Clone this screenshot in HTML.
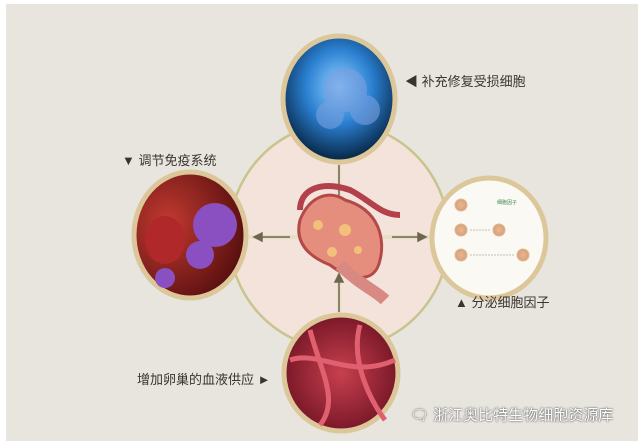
<!DOCTYPE html>
<html><head><meta charset="utf-8"><style>
body{margin:0;width:643px;height:448px;overflow:hidden;background:#fff;font-family:"Liberation Sans","Noto Sans CJK SC",sans-serif}
.t{position:absolute;font-size:13px;color:#3a3430;white-space:nowrap}
</style></head><body>
<svg width="643" height="448" style="position:absolute;left:0;top:0">
<defs>
<radialGradient id="blue" cx="0.5" cy="0.4" r="0.6"><stop offset="0" stop-color="#8fd0ff"/><stop offset="0.5" stop-color="#2a7fd0"/><stop offset="1" stop-color="#06223f"/></radialGradient>
<radialGradient id="red" cx="0.5" cy="0.5" r="0.6"><stop offset="0" stop-color="#c8404f"/><stop offset="1" stop-color="#6a1020"/></radialGradient>
<radialGradient id="imm" cx="0.3" cy="0.4" r="0.7"><stop offset="0" stop-color="#c23a30"/><stop offset="1" stop-color="#5a1010"/></radialGradient>
<radialGradient id="cell" cx="0.5" cy="0.5" r="0.5"><stop offset="0" stop-color="#e8b890"/><stop offset="1" stop-color="#d7a07a"/></radialGradient>
</defs>
<rect x="6" y="4" width="632" height="437" fill="#e8e5df"/>
<ellipse cx="339" cy="236" rx="110" ry="113" fill="#f3e3da" stroke="#c8c48e" stroke-width="2.5"/>
<g stroke="#e9dfc8" stroke-width="4" fill="none">
<line x1="339" y1="162" x2="339" y2="315"/><line x1="248" y1="237" x2="430" y2="237"/></g>
<g stroke="#6f6650" stroke-width="1.5" fill="#6f6650">
<line x1="339" y1="165" x2="339" y2="205"/><path d="M335,200 L339,208 L343,200Z"/>
<line x1="339" y1="275" x2="339" y2="312"/><path d="M335,282 L339,274 L343,282Z"/>
<line x1="255" y1="237" x2="290" y2="237"/><path d="M262,233 L254,237 L262,241Z"/>
<line x1="392" y1="237" x2="425" y2="237"/><path d="M418,233 L426,237 L418,241Z"/>
</g>
<!-- ovary -->
<path d="M300,220 C310,195 330,190 345,200 C380,210 385,240 380,260 C375,285 350,280 330,265 C305,255 295,240 300,220Z" fill="#e58e7e" stroke="#b44a48" stroke-width="3"/>
<path d="M300,210 C300,190 320,180 350,190 C370,200 380,215 400,215" stroke="#b3404a" stroke-width="6" fill="none"/>
<path d="M340,265 C360,285 375,290 385,300" stroke="#d88a82" stroke-width="12" fill="none"/>
<g fill="#f2c07a"><circle cx="318" cy="225" r="5"/><circle cx="345" cy="230" r="6"/><circle cx="332" cy="252" r="5"/><circle cx="358" cy="250" r="4"/></g>
<!-- circles -->
<g stroke="#dcc79a" stroke-width="5">
<ellipse cx="339" cy="99" rx="56" ry="63" fill="url(#blue)"/>
<ellipse cx="190" cy="235" rx="56" ry="63" fill="url(#imm)"/>
<ellipse cx="489" cy="238" rx="57" ry="60" fill="#fbf9f4"/>
<ellipse cx="341" cy="373" rx="57" ry="58" fill="url(#red)"/>
</g>
<g fill="#7a9fe0" opacity="0.6"><circle cx="345" cy="90" r="22"/><circle cx="365" cy="110" r="15"/><circle cx="330" cy="115" r="14"/></g>
<g fill="#8a4fc0"><circle cx="215" cy="225" r="22"/><circle cx="200" cy="255" r="14"/><circle cx="165" cy="278" r="10"/></g>
<g fill="#b0282a"><ellipse cx="165" cy="240" rx="20" ry="24"/></g>
<g stroke="#e06070" stroke-width="5" fill="none"><path d="M290,360 C320,350 350,380 395,360"/><path d="M310,330 C320,370 340,400 320,425"/><path d="M360,325 C350,360 370,400 385,420"/></g>
<g fill="url(#cell)" stroke="#e0b890"><circle cx="461" cy="205" r="6"/><circle cx="461" cy="230" r="6"/><circle cx="499" cy="230" r="6"/><circle cx="461" cy="255" r="6"/><circle cx="523" cy="255" r="6"/></g>
<text x="497" y="204" font-size="5" fill="#3a8a50">细胞因子</text>
<g stroke="#888" stroke-width="0.6" stroke-dasharray="2,1"><line x1="470" y1="230" x2="490" y2="230"/><line x1="470" y1="255" x2="515" y2="255"/></g>
</svg>
<div class="t" style="left:405px;top:71px">◀ 补充修复受损细胞</div>
<div class="t" style="left:122px;top:150px">▼ 调节免疫系统</div>
<div class="t" style="left:455px;top:292px">▲ 分泌细胞因子</div>
<div class="t" style="left:137px;top:369px">增加卵巢的血液供应 ►</div>
<div class="t" style="left:410px;top:404px;font-size:15px;color:#fff;text-shadow:0 0 2px #666,0 0 1px #444">🗨 浙江奥比特生物细胞资源库</div>
</body></html>
